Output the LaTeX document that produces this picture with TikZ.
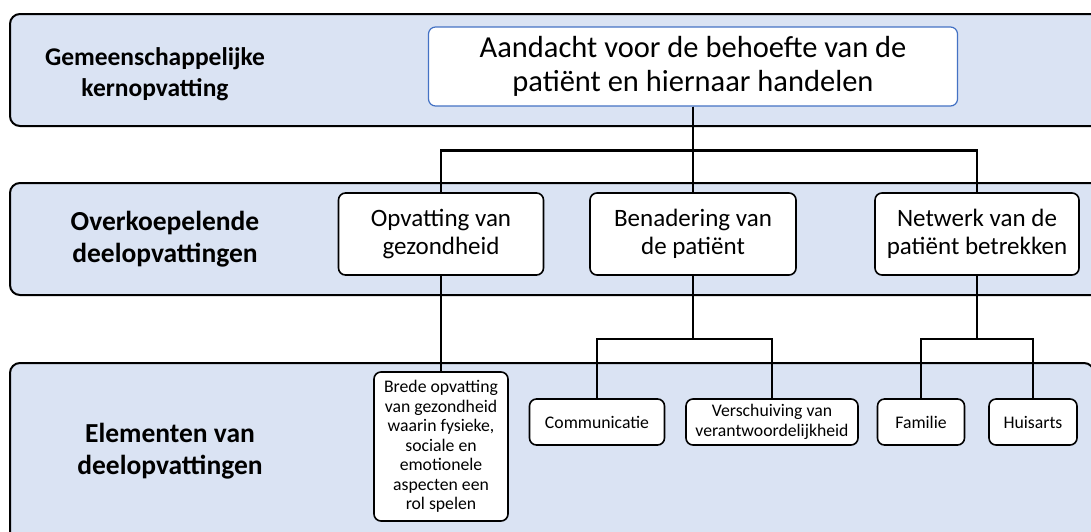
\documentclass[tikz,border=0pt]{standalone}
\usepackage{fontspec}
\setmainfont{Carlito}
\usepackage{xcolor}
\usepackage{tikz}
\usetikzlibrary{positioning}
\definecolor{laagblauw}{HTML}{DAE3F3}
\definecolor{kernrand}{HTML}{4472C4}
\tikzset{
  laag/.style={draw=black, line width=2pt, fill=laagblauw, rounded corners=10pt},
  laaglabel/.style={align=center, font=\fontsize{27.5}{32}\selectfont\bfseries},
  vak/.style={draw, line width=1.6pt, fill=white, rounded corners=7pt, align=center, inner sep=0pt},
  vak2/.style={vak, minimum height=82pt, font=\fontsize{25}{27.5}\selectfont},
  vak3/.style={vak, minimum height=46pt, font=\fontsize{17.7}{19.5}\selectfont},
  lijn/.style={line width=2.6pt},
}

\begin{document}
\begin{tikzpicture}[x=1pt,y=-1pt]
\useasboundingbox (0,0) rectangle (1091,531);
% lagen
\draw[laag] (10,14) rectangle (1110,126);
\draw[laag] (10,183) rectangle (1110,295);
\draw[laag] (10,363) rectangle (1094,545);
\node[laaglabel, font=\fontsize{25.5}{31}\selectfont\bfseries] (label_kern) at (155,74) {Gemeenschappelijke\\kernopvatting};
\node[laaglabel] (label_deel) at (165,239) {Overkoepelende\\deelopvattingen};
\node[laaglabel] (label_elem) at (170,451) {Elementen van\\deelopvattingen};
% kern
\node[vak, draw=kernrand, line width=1.2pt, minimum width=529pt, minimum height=79pt, font=\fontsize{30.5}{34.5}\selectfont] (kern) at (693,66.5) {Aandacht voor de behoefte van de\\patiënt en hiernaar handelen};
% deelopvattingen
\node[vak2, minimum width=205pt] (opv) at (441,234) {Opvatting van\\gezondheid};
\node[vak2, minimum width=206pt] (ben) at (693,234) {Benadering van\\de patiënt};
\node[vak2, minimum width=204pt] (netw) at (977,234) {Netwerk van de\\patiënt betrekken};
% elementen
\node[vak3, minimum width=134pt, minimum height=149pt] (brede) at (441,446.5) {Brede opvatting\\van gezondheid\\waarin fysieke,\\sociale en\\emotionele\\aspecten een\\rol spelen};
\node[vak3, minimum width=135pt] (comm) at (597,422) {Communicatie};
\node[vak3, minimum width=172pt] (versch) at (772,422) {Verschuiving van\\verantwoordelijkheid};
\node[vak3, minimum width=87pt] (fam) at (921,422) {Familie};
\node[vak3, minimum width=88pt] (huis) at (1033,422) {Huisarts};
% verbindingen
\draw[lijn] (kern.south) -- ++(0,44) -| (opv.north);
\draw[lijn] (kern.south) -- ++(0,44) -| (netw.north);
\draw[lijn] (kern.south) -- (ben.north);
\draw[lijn] (opv.south) -- (brede.north);
\draw[lijn] (ben.south) -- ++(0,63) -| (comm.north);
\draw[lijn] (ben.south) -- ++(0,63) -| (versch.north);
\draw[lijn] (netw.south) -- ++(0,63) -| (fam.north);
\draw[lijn] (netw.south) -- ++(0,63) -| (huis.north);
\end{tikzpicture}
\end{document}
